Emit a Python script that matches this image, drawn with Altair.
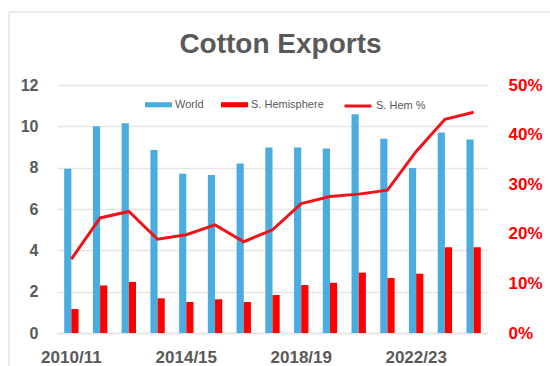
import altair as alt
import pandas as pd

seasons = ["2010/11", "2011/12", "2012/13", "2013/14", "2014/15", "2015/16", "2016/17",
           "2017/18", "2018/19", "2019/20", "2020/21", "2021/22", "2022/23", "2023/24", "2024/25"]
world = [7.95, 10.0, 10.15, 8.85, 7.7, 7.65, 8.2, 8.98, 8.98, 8.93, 10.58, 9.4, 7.98, 9.7, 9.36]
shem = [1.16, 2.3, 2.47, 1.68, 1.5, 1.63, 1.5, 1.84, 2.32, 2.43, 2.92, 2.66, 2.87, 4.15, 4.15]
pct = [0.149, 0.232, 0.245, 0.189, 0.198, 0.218, 0.184, 0.208, 0.261, 0.275, 0.280, 0.288, 0.366, 0.431, 0.445]
x_labels = ["2010/11", "2014/15", "2018/19", "2022/23"]
series_names = ["World", "S. Hemisphere"]
line_name = "S. Hem %"

bars_df = pd.DataFrame(
    [{"season": s, "series": "World", "value": v} for s, v in zip(seasons, world)]
    + [{"season": s, "series": "S. Hemisphere", "value": v} for s, v in zip(seasons, shem)]
)
line_df = pd.DataFrame({"season": seasons, "pct": pct, "series2": [line_name] * len(seasons)})

FONT = "Liberation Sans"
GRAY = "#595959"

xscale = alt.Scale(domain=seasons, paddingInner=0.5, paddingOuter=0.25)
xaxis = alt.Axis(values=x_labels, labelAngle=0, ticks=False, domain=True, domainColor="#e3e3e3",
                 domainWidth=1.5, labelPadding=16, labelFontSize=17, labelFont=FONT,
                 labelFontWeight="bold", labelColor=GRAY, title=None, grid=False)

bars = alt.Chart(bars_df).mark_bar().encode(
    x=alt.X("season:N", scale=xscale, axis=xaxis, sort=seasons),
    xOffset=alt.XOffset("series:N", scale=alt.Scale(domain=series_names, paddingInner=0, paddingOuter=0)),
    y=alt.Y("value:Q", scale=alt.Scale(domain=[0, 12], nice=False),
            axis=alt.Axis(values=[0, 2, 4, 6, 8, 10, 12], grid=True, gridColor="#e6e6e6", gridWidth=1.5,
                          domain=False, ticks=False, labelPadding=19, labelFontSize=16, labelFont=FONT,
                          labelFontWeight="bold", labelColor=GRAY, title=None)),
    color=alt.Color("series:N", scale=alt.Scale(domain=series_names, range=["#4BACE0", "#FF0000"]),
                    legend=alt.Legend(orient="none", legendX=88, legendY=6, direction="horizontal",
                                      title=None, symbolType="M-1,-0.19H1V0.19H-1Z", symbolSize=729,
                                      symbolStrokeWidth=0, labelFontSize=11, labelFont=FONT,
                                      labelColor=GRAY, columnPadding=17, labelOffset=3, padding=0)),
)

line = alt.Chart(line_df).mark_line(strokeWidth=3).encode(
    x=alt.X("season:N", scale=xscale, axis=xaxis, sort=seasons),
    y=alt.Y("pct:Q", scale=alt.Scale(domain=[0, 0.5], nice=False),
            axis=alt.Axis(orient="right", format=".0%", values=[0, 0.1, 0.2, 0.3, 0.4, 0.5], grid=False,
                          domain=False, ticks=False, labelPadding=20, labelFontSize=17, labelFont=FONT,
                          labelFontWeight="bold", labelColor="#FF0000", title=None)),
    stroke=alt.Stroke("series2:N", scale=alt.Scale(domain=[line_name], range=["#F0141A"]),
                      legend=alt.Legend(orient="none", legendX=286, legendY=6, title=None,
                                        symbolType="stroke", symbolSize=729, symbolStrokeWidth=3,
                                        labelFontSize=11, labelFont=FONT, labelColor=GRAY,
                                        labelOffset=3, padding=0)),
)

frame_top = alt.Chart(pd.DataFrame({"k": [0]})).mark_rule(color="#e3e3e3", strokeWidth=1.5).encode(
    x=alt.value(-48), x2=alt.value(500), y=alt.value(-73))
frame_left = alt.Chart(pd.DataFrame({"k": [0]})).mark_rule(color="#e3e3e3", strokeWidth=1.5).encode(
    x=alt.value(-48), y=alt.value(-73), y2=alt.value(290))

chart = alt.layer(frame_top, frame_left, bars, line).resolve_scale(
    y="independent", color="independent", stroke="independent"
).properties(
    width=431, height=248,
    title=alt.TitleParams("Cotton Exports", fontSize=28, font=FONT, fontWeight="bold",
                          color=GRAY, anchor="middle", dx=8, offset=-70, baseline="alphabetic"),
    padding={"left": 57, "top": 85, "right": 62, "bottom": 33},
    autosize="none",
).configure_view(stroke=None)

chart.save("out.html", embed_options={"renderer": "svg", "actions": False})
